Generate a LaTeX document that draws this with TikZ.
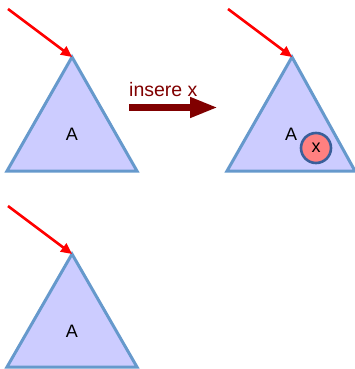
\documentclass[tikz,border=0pt]{standalone}
\usepackage{fontspec}
\setmainfont{Liberation Sans}
\usetikzlibrary{arrows.meta}
\definecolor{trifill}{HTML}{CCCCFF}
\definecolor{tristroke}{HTML}{6699CC}
\definecolor{ptr}{HTML}{FF0000}
\definecolor{darkred}{HTML}{800000}
\definecolor{nodefill}{HTML}{FF8080}
\definecolor{nodestroke}{HTML}{3A5F9A}
\begin{document}
\begin{tikzpicture}[x=1pt,y=-1pt,
  tri/.style={fill=trifill,draw=tristroke,line width=3pt,line join=miter},
  ptrarrow/.style={draw=ptr,line width=2.6pt,-{Triangle[length=11pt,width=10pt]}},
  lbl/.style={font=\fontsize{18}{18}\selectfont,inner sep=0pt},
  elem/.style={circle,fill=nodefill,draw=nodestroke,line width=2.6pt,minimum size=30pt,inner sep=0pt,font=\fontsize{18}{18}\selectfont}]
\useasboundingbox (0,0) rectangle (355,369);
% triangle 1
\coordinate (t1) at (72,57);
\draw[tri] (t1) -- (137,171) -- (7,171) -- cycle;
\node[lbl] (a1) at (72,134) {A};
\coordinate (p1) at (8,9);
\draw[ptrarrow] (p1) -- (t1);
% transformation arrow
\coordinate (s) at (129,107.5);
\coordinate (e) at (218,107.5);
\draw[darkred,line width=7pt,-{Triangle[length=28pt,width=19pt]}] (s) -- (e);
\node[anchor=base west,inner sep=0pt,text=darkred,font=\fontsize{19.5}{19.5}\selectfont] (ins) at (129,96) {insere x};
% triangle 2
\coordinate (t2) at (292,57);
\draw[tri] (t2) -- (355,171) -- (227,171) -- cycle;
\node[lbl] (a2) at (291,134) {A};
\node[elem] (x) at (316,148) {x};
\coordinate (p2) at (228,9);
\draw[ptrarrow] (p2) -- (t2);
% triangle 3
\coordinate (t3) at (72,254);
\draw[tri] (t3) -- (137,367) -- (7,367) -- cycle;
\node[lbl] (a3) at (72,331) {A};
\coordinate (p3) at (8,206);
\draw[ptrarrow] (p3) -- (t3);
\end{tikzpicture}
\end{document}
